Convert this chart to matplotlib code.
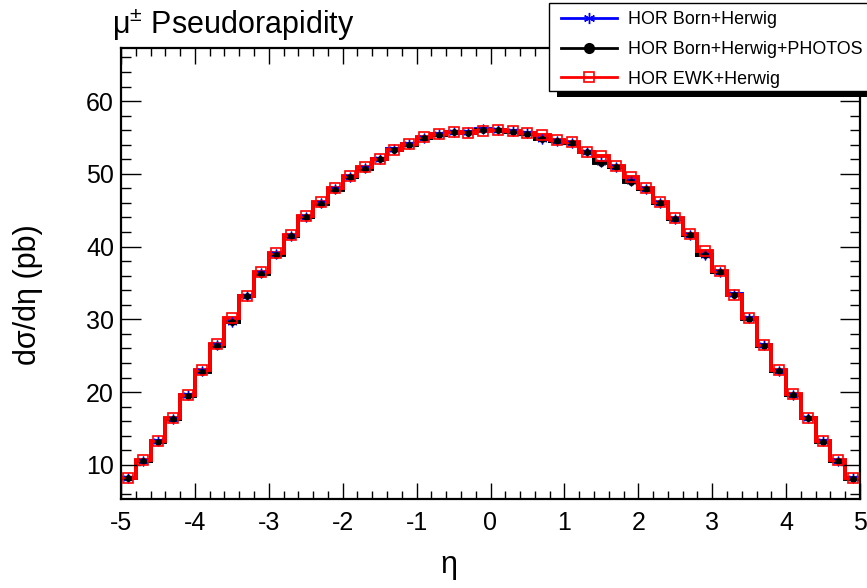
import matplotlib
matplotlib.use("Agg")
import matplotlib.pyplot as plt
import numpy as np
from matplotlib.ticker import MultipleLocator
from matplotlib.lines import Line2D
from matplotlib.patches import Rectangle

plt.rcParams['font.family'] = ['Liberation Sans', 'DejaVu Sans']
plt.rcParams['mathtext.default'] = 'regular'

# ---- data ----
bin_edges = np.round(np.linspace(-5, 5, 51), 2)
born_herwig = [8.25, 10.5, 13.25, 16.35, 19.55, 22.85, 26.45, 29.7, 33.25, 36.3,
               38.95, 41.45, 44.05, 45.95, 47.85, 49.55, 50.75, 52.05, 53.35, 54.05,
               54.95, 55.45, 55.75, 55.7, 56.15, 56.05, 55.85, 55.55, 54.85, 54.55,
               54.25, 53.05, 51.6, 50.95, 49.0, 47.95, 46.05, 43.85, 41.65, 38.9,
               36.55, 33.45, 30.15, 26.45, 22.95, 19.65, 16.45, 13.25, 10.55, 8.15]
born_herwig_photos = [8.2, 10.46, 13.2, 16.3, 19.5, 22.8, 26.4, 29.6, 33.2, 36.2,
                      38.9, 41.4, 44.0, 45.9, 47.8, 49.5, 50.7, 52.0, 53.3, 54.0,
                      54.9, 55.4, 55.7, 55.6, 56.05, 56.0, 55.8, 55.5, 54.75, 54.5,
                      54.2, 53.0, 51.5, 50.9, 48.9, 47.9, 46.0, 43.8, 41.6, 38.8,
                      36.5, 33.4, 30.1, 26.4, 22.9, 19.6, 16.4, 13.2, 10.5, 8.1]
ewk_herwig = [8.25, 10.64, 13.31, 16.44, 19.66, 23.1, 26.64, 30.14, 33.26, 36.57,
              39.06, 41.59, 44.16, 46.09, 48.02, 49.68, 50.92, 52.07, 53.31, 54.05,
              55.01, 55.42, 55.75, 55.66, 55.93, 55.98, 55.84, 55.61, 55.3, 54.6,
              54.37, 52.99, 52.39, 51.01, 49.63, 48.02, 46.09, 43.89, 41.72, 39.43,
              36.67, 33.36, 30.14, 26.41, 23.1, 19.75, 16.44, 13.31, 10.69, 8.16]
labels = ["HOR Born+Herwig", "HOR Born+Herwig+PHOTOS", "HOR EWK+Herwig"]
colors = ["#0000ff", "#000000", "#ff0000"]

W, H = 867, 588
fig = plt.figure(figsize=(W / 100, H / 100), dpi=100)

def fx(px):
    return px / W

def fy(py):
    return 1 - py / H

ax_l, ax_r, ax_t, ax_b = 121, 860, 48, 499
ax = fig.add_axes([fx(ax_l), fy(ax_b), fx(ax_r - ax_l), (ax_b - ax_t) / H])

centers = 0.5 * (bin_edges[:-1] + bin_edges[1:])
star = (6, 2, 0)
styles = [
    dict(marker=star, ms=7, mfc=colors[0], mec=colors[0], mew=1.0),
    dict(marker='o', ms=4, mfc=colors[1], mec=colors[1], mew=1.0),
    dict(marker='s', ms=7.5, mfc='none', mec=colors[2], mew=1.2),
]
series = [born_herwig, born_herwig_photos, ewk_herwig]
for vals, c, st in zip(series, colors, styles):
    ax.stairs(vals, bin_edges, color=c, lw=2.8, baseline=None)
    ax.plot(centers, vals, ls='none', **st)

ax.set_xlim(-5, 5)
ax.set_ylim(5.3, 67.3)
ax.xaxis.set_major_locator(MultipleLocator(1))
ax.xaxis.set_minor_locator(MultipleLocator(0.2))
ax.yaxis.set_major_locator(MultipleLocator(10))
ax.yaxis.set_minor_locator(MultipleLocator(2))
ax.tick_params(axis='both', which='both', direction='in', top=True, right=True,
               labelsize=18, width=1, colors='black')
ax.tick_params(axis='x', which='major', length=11.5, pad=9)
ax.tick_params(axis='x', which='minor', length=5.8)
ax.tick_params(axis='y', which='major', length=14.5, pad=5)
ax.tick_params(axis='y', which='minor', length=7.2)
for s in ax.spines.values():
    s.set_linewidth(1.6)

ax.set_xticks([-5, -4, -3, -2, -1, 0, 1, 2, 3, 4, 5])
ax.set_xticklabels(['-5', '-4', '-3', '-2', '-1', '0', '1', '2', '3', '4', '5'])

ax.set_xlabel('η', fontsize=22)
ax.xaxis.set_label_coords((449 - ax_l) / (ax_r - ax_l), (ax_b - 565) / (ax_b - ax_t))
ax.xaxis.label.set_va('center')
ax.set_ylabel('dσ/dη (pb)', fontsize=22)
ax.yaxis.set_label_coords((27.5 - ax_l) / (ax_r - ax_l), (ax_b - 295) / (ax_b - ax_t))
ax.yaxis.label.set_va('center')

fig.text(fx(112), fy(34), r'$\mu^{\pm}$ Pseudorapidity', fontsize=22,
         ha='left', va='baseline')

# ---- legend (ROOT style with shadow) ----
lg_l, lg_t, lg_b = 549, 3, 91
fig.add_artist(Rectangle((fx(lg_l + 8), fy(lg_b + 6)), fx(W), (lg_b - lg_t) / H,
                         transform=fig.transFigure, facecolor='black',
                         edgecolor='none', zorder=9))
fig.add_artist(Rectangle((fx(lg_l), fy(lg_b)), fx(W), (lg_b - lg_t) / H,
                         transform=fig.transFigure, facecolor='white',
                         edgecolor='black', lw=1.0, zorder=10))
row_y = [18, 47.5, 77]
for lab, c, st, ry in zip(labels, colors, styles, row_y):
    fig.add_artist(Line2D([fx(561), fx(617)], [fy(ry), fy(ry)], color=c, lw=2.0,
                          transform=fig.transFigure, zorder=11))
    st2 = dict(st)
    if st2['marker'] == 'o':
        st2['ms'] = 7
    if st2['marker'] == star:
        st2['ms'] = 8
    fig.add_artist(Line2D([fx(589)], [fy(ry)], ls='none',
                          transform=fig.transFigure, zorder=12, **st2))
    fig.text(fx(628), fy(ry), lab, fontsize=12.9, ha='left', va='center_baseline',
             zorder=12)

fig.savefig('out.png', dpi=100)
